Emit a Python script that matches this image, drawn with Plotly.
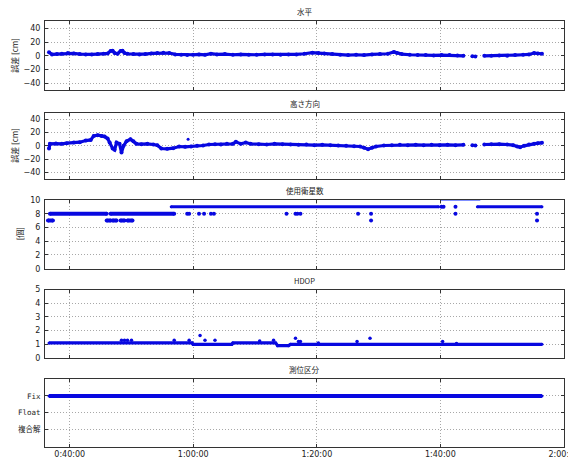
import plotly.graph_objects as go
from datetime import datetime, timedelta

# ---------------- data ----------------
h_time = ["0:36:39","0:37:08","0:37:56","0:38:44","0:39:42","0:40:40","0:41:38","0:42:36","0:43:34","0:44:32",
          "0:45:30","0:46:08","0:46:37","0:46:57","0:47:16","0:47:45","0:48:14","0:48:33","0:48:52","0:49:21",
          "0:50:19","0:51:17","0:52:15","0:53:13","0:54:11","0:55:09","0:56:07","0:57:05","0:58:03","0:59:01",
          "0:59:58","1:00:56","1:01:54","1:02:52","1:03:50","1:05:07","1:06:25","1:07:42","1:08:59","1:10:16",
          "1:11:34","1:12:51","1:14:08","1:15:25","1:16:42","1:18:00","1:19:17","1:20:15","1:21:13","1:22:30",
          "1:23:47","1:25:04","1:26:22","1:27:39","1:28:56","1:30:13","1:31:31","1:32:29","1:32:58","1:33:46",
          "1:35:03","1:36:20","1:37:38","1:38:55","1:40:12","1:41:29","1:42:46","1:43:44",None,"1:45:11",None,
          "1:45:40",None,"1:47:07","1:48:15","1:49:32","1:50:49","1:52:06","1:53:24","1:54:21","1:55:10","1:55:48",
          "1:56:27"]
h_err = [5,2,2.5,3,4,3.5,2.5,2,2,2.5,
         3,3.5,7,7.5,4,3,7,7.5,4,3,
         2.5,2,2.5,3.5,4,4.5,4,2,1.5,1,
         1.5,2,1.5,3,2,2.5,1.5,2,1.5,1.5,
         2,2,1.5,2,2,3,4.5,4,3.5,2.5,
         1.5,1,1.5,1,2,2.5,3,5.5,4,2.5,
         1.5,1,1,0.5,1,1,0.5,0,None,-0.5,None,
         -1,None,0,0,0.5,0,1,1.5,2,4,3.5,
         3]

v_time = ["0:36:39","0:36:48","0:37:46","0:38:44","0:39:32","0:40:40","0:41:38","0:42:36","0:43:24","0:43:53",
          "0:44:32","0:45:10","0:45:39","0:46:08","0:46:28","0:46:57","0:47:16","0:47:35","0:48:04","0:48:23",
          "0:48:43","0:49:12","0:49:50","0:50:19","0:50:48","0:51:36","0:52:34","0:53:32","0:54:11","0:54:50",
          "0:55:47","0:56:45","0:57:43","0:58:41","0:59:39","1:00:37","1:01:35","1:02:33","1:03:31","1:04:29",
          "1:05:27","1:06:25","1:06:54","1:07:42","1:08:30","1:09:18","1:10:36","1:11:53","1:13:10","1:14:27",
          "1:15:45","1:17:02","1:18:19","1:19:36","1:20:53","1:22:11","1:23:28","1:24:45","1:26:02","1:27:00",
          "1:27:39","1:28:18","1:28:56","1:29:35","1:30:52","1:32:09","1:33:27","1:34:44","1:36:01","1:37:18",
          "1:38:35","1:39:53","1:41:10","1:42:27","1:43:44",None,"1:45:11",None,"1:45:40",None,
          "1:47:07","1:48:15","1:49:32","1:50:49","1:51:47","1:52:26","1:52:55","1:53:33","1:54:21","1:55:10",
          "1:55:48","1:56:27"]
v_err = [-4,3,3.5,3,4,5,5.5,8,9,15,
         16,15,14,11,5,-4,-6,5,3,-10,
         0,7,10,7,3,2.5,3,2,1,-4,
         -4.5,-3.5,-1,-1.5,-1,0,0.5,2,2.5,2,
         3,3,6,3,5,3,2.5,2,3,2.5,
         2,1.5,2,1,1.5,1,0.5,0,-0.5,-1,
         -3,-5,-3,-1,0.5,1,1.5,1,1.5,1,
         1.5,1,1.5,1,1.5,None,1,None,0.5,None,
         2,2.5,2.5,2,1,-1,-2,0,2,3,
         4,4.5]
v_out_time = ["0:59:10"]
v_out_err = [10]

# satellites: runs of 7/8 satellites, runs of 9, a short run of 10 (at the frame top), isolated samples
sat78_time = ["0:36:29","0:37:17",None,"0:36:48","0:45:59",None,"0:45:59","0:46:37",None,"0:46:57","0:47:35",None,
              "0:46:37","0:56:55",None,"0:48:14","0:48:52",None,"0:49:21","0:50:10"]
sat78_count = [7,7,None,8,8,None,7,7,None,7,7,None,
               8,8,None,7,7,None,7,7]
sat9_time = ["0:56:26","1:39:43",None,"1:46:00","1:56:27"]
sat9_count = [9,9,None,9,9]
sat10_time = ["1:40:02","1:46:28"]
sat10_count = [10,10]
sat_pt_time = ["1:40:12","1:40:31","1:42:27",
               "0:59:01","0:59:20","1:00:56","1:01:45","1:02:52","1:03:21","1:15:06","1:16:33","1:16:52",
               "1:17:21","1:26:41","1:28:47","1:42:27","1:55:39",
               "1:28:47","1:55:39"]
sat_pt_count = [9,9,9,
                8,8,8,8,8,8,8,8,8,
                8,8,8,8,8,
                7,7]

hdop_time = ["0:36:39","0:59:49","0:59:58","1:06:15","1:06:25","1:13:20","1:13:39","1:15:25","1:15:45","1:56:27"]
hdop_val = [1.1,1.1,1.0,1.0,1.1,1.1,0.9,0.9,1.0,1.0]
hdop_pt_time = ["0:48:23","0:48:52","0:49:21","0:50:00","0:56:55","0:59:20","1:01:06","1:01:54","1:03:31",
                "1:10:45","1:13:00","1:16:33","1:17:02","1:17:21","1:20:15","1:26:31","1:28:37","1:40:22","1:42:37"]
hdop_pt_val = [1.3,1.3,1.3,1.3,1.3,1.3,1.65,1.3,1.3,
               1.25,1.3,1.45,1.2,1.2,1.1,1.2,1.45,1.2,1.05]

fix_time = ["0:36:39","1:56:27"]
fix_class = [3,3]

fix_tickvals = [1,2,3]
fix_ticktext = ["複合解","Float","Fix"]

titles = ["水平","高さ方向","使用衛星数","HDOP","測位区分"]
ylabels = ["誤差 [cm]","誤差 [cm]","[個]",None,None]
x_tickvals = ["0:40:00","1:00:00","1:20:00","1:40:00","2:00:00"]
x_range = ["0:36:00","2:00:01"]

# ---------------- helpers ----------------
BASE = datetime(2024, 1, 1)
def T(s):
    if s is None:
        return None
    h, m, sec = map(int, s.split(":"))
    return BASE + timedelta(hours=h, minutes=m, seconds=sec)
def TL(lst):
    return [T(s) for s in lst]

BLUE = "#0808e0"
W, H = 568, 461
ML, MR, MT, MB = 45, 4, 21, 14
plot_h = H - MT - MB
plot_w = W - ML - MR
panel_px = [(21.4, 90.2), (112.7, 179.0), (200.0, 268.7), (289.5, 358.0), (379.0, 446.7)]
domains = [[(H - MB - b) / plot_h, min(1.0, (H - MB - t) / plot_h)] for t, b in panel_px]
xnames = ["x6", "x7", "x8", "x9", "x"]
ynames = ["y", "y2", "y3", "y4", "y5"]

fig = go.Figure()

def add_line(x, y, p, lw=3.2, ms=4, color=BLUE, markers=True):
    fig.add_trace(go.Scatter(x=TL(x), y=y, mode="lines+markers" if markers else "lines",
                             xaxis=xnames[p], yaxis=ynames[p],
                             line=dict(color=color, width=lw), marker=dict(color=color, size=ms),
                             connectgaps=False, showlegend=False, hoverinfo="skip"))
def add_pts(x, y, p, ms=4):
    fig.add_trace(go.Scatter(x=TL(x), y=y, mode="markers", xaxis=xnames[p], yaxis=ynames[p],
                             marker=dict(color=BLUE, size=ms), showlegend=False, hoverinfo="skip"))

add_line(h_time, h_err, 0)
add_line(v_time, v_err, 1)
add_pts(v_out_time, v_out_err, 1, ms=3)
add_line(sat78_time, sat78_count, 2, lw=4, ms=4)
add_line(sat9_time, sat9_count, 2, lw=3, ms=3)
add_line(sat10_time, sat10_count, 2, lw=2, color="#7f8fff", markers=False)
add_pts(sat_pt_time, sat_pt_count, 2)
add_line(hdop_time, hdop_val, 3, lw=3.2, ms=3)
add_pts(hdop_pt_time, hdop_pt_val, 3, ms=3.5)
add_line(fix_time, fix_class, 4, lw=4, ms=3)

NUMFONT = dict(family="DejaVu Sans, Noto Sans CJK JP", size=8, color="#222")
GRID = dict(showgrid=True, gridcolor="#a8a8a8", griddash="1px,2px", gridwidth=1,
            showline=True, linecolor="#333", linewidth=1, mirror="ticks",
            ticks="inside", ticklen=3, tickcolor="#333", zeroline=False, automargin=False)

layout = dict(width=W, height=H, margin=dict(l=ML, r=MR, t=MT, b=MB),
              paper_bgcolor="white", plot_bgcolor="white", showlegend=False)

xcommon = dict(type="date", range=TL(x_range), tickvals=TL(x_tickvals), tickformat="%-H:%M:%S", **GRID)
layout["xaxis"] = dict(anchor="y5", domain=[0, 1], tickfont=NUMFONT, ticklabeloverflow="allow", **xcommon)
for i in range(4):
    layout[f"xaxis{i+6}"] = dict(anchor=ynames[i], matches="x", showticklabels=False, **xcommon)

yspecs = [
    dict(range=[-50, 50], tickvals=[-40, -20, 0, 20, 40]),
    dict(range=[-50, 50], tickvals=[-40, -20, 0, 20, 40]),
    dict(range=[0, 10], tickvals=[0, 2, 4, 6, 8, 10]),
    dict(range=[0, 5], tickvals=[0, 1, 2, 3, 4, 5]),
    dict(range=[0, 4], tickvals=fix_tickvals, ticktext=fix_ticktext),
]
for i, spec in enumerate(yspecs):
    key = "yaxis" if i == 0 else f"yaxis{i+1}"
    font = NUMFONT
    if i == 4:
        font = dict(family="DejaVu Sans Mono, Noto Sans CJK JP", size=7.5, color="#222")
    layout[key] = dict(domain=domains[i], anchor=xnames[i], tickfont=font,
                       ticklabelstandoff=2, **spec, **GRID)
fig.update_layout(**layout)

anns = []
for i, t in enumerate(titles):
    anns.append(dict(text=t, x=0.5, xref="paper", y=domains[i][1], yref="paper", yanchor="bottom",
                     yshift=2, showarrow=False,
                     font=dict(family="Noto Sans CJK JP, DejaVu Sans", size=7.5, color="#222")))
for i, lab in enumerate(ylabels):
    if lab is None:
        continue
    xpx = 15 if i < 2 else 19
    anns.append(dict(text=lab, x=(xpx - ML) / plot_w, xref="paper", y=sum(domains[i]) / 2, yref="paper",
                     textangle=-90, showarrow=False, xanchor="center", yanchor="middle",
                     font=dict(family="Noto Sans CJK JP, DejaVu Sans", size=8, color="#222")))
fig.update_layout(annotations=anns)

fig.write_html("out.html", config={"displayModeBar": False},
               post_script="document.body.style.margin='0';document.body.style.padding='0';"
                           "document.body.style.overflow='hidden';")
